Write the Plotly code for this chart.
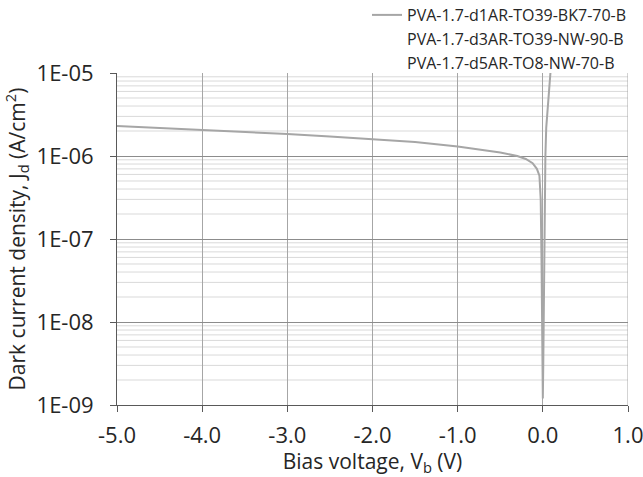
import plotly.graph_objects as go

# Data
bias_v = [-5.0, -4.5, -4.0, -3.5, -3.0, -2.5, -2.0, -1.5, -1.0, -0.7, -0.5, -0.3, -0.2, -0.12,
          -0.07, -0.04, -0.025, -0.015, -0.008, -0.003, 0.0, 0.005, 0.012, 0.02, 0.03, 0.04,
          0.06, 0.08, 0.09, 0.1]
jd = [2.3e-6, 2.18e-6, 2.06e-6, 1.95e-6, 1.84e-6, 1.72e-6, 1.6e-6, 1.47e-6, 1.3e-6, 1.18e-6,
      1.1e-6, 1.0e-6, 9.2e-7, 8.2e-7,
      7.0e-7, 5.8e-7, 3e-7, 5e-8, 8e-9, 2e-9, 1.2e-9, 3e-9, 3e-8, 2.5e-7, 1.0e-6, 2.2e-6,
      4.5e-6, 7.5e-6, 1.0e-5, 1.4e-5]

series_names = ["PVA-1.7-d1AR-TO39-BK7-70-B",
                "PVA-1.7-d3AR-TO39-NW-90-B",
                "PVA-1.7-d5AR-TO8-NW-70-B"]

x_ticks = [-5.0, -4.0, -3.0, -2.0, -1.0, 0.0, 1.0]
x_tick_text = ["-5.0", "-4.0", "-3.0", "-2.0", "-1.0", "0.0", "1.0"]
y_ticks = [1e-9, 1e-8, 1e-7, 1e-6, 1e-5]
y_tick_text = ["1E-09", "1E-08", "1E-07", "1E-06", "1E-05"]

FONT = "Open Sans"
TXT = "#262626"
W, H = 643, 477
ML, MR, MT, MB = 117, 15, 73, 72
PW, PH = W - ML - MR, H - MT - MB

fig = go.Figure()

# minor horizontal gridlines
minor_vals = [m * 10 ** e for e in range(-9, -5) for m in range(2, 10)]
for v in minor_vals:
    fig.add_shape(type="line", xref="paper", yref="y", x0=0, x1=1, y0=v, y1=v,
                  line=dict(color="#d9d9d9", width=1), layer="below")
# right border gridline at x = 1.0
fig.add_shape(type="line", xref="x", yref="paper", x0=x_ticks[-1], x1=x_ticks[-1], y0=0, y1=1,
              line=dict(color="#a6a6a6", width=1), layer="below")

fig.add_trace(go.Scatter(x=bias_v, y=jd, mode="lines", name=series_names[0],
                         line=dict(color="#a6a6a6", width=2)))
for nm in series_names[1:]:
    fig.add_trace(go.Scatter(x=[None], y=[None], mode="lines", name=nm,
                             line=dict(color="rgba(0,0,0,0)", width=2)))

fig.update_layout(
    width=W, height=H,
    margin=dict(l=ML, r=MR, t=MT, b=MB, autoexpand=False),
    plot_bgcolor="white", paper_bgcolor="white",
    font=dict(family=FONT, color=TXT),
    showlegend=True,
    legend=dict(x=(367 - ML) / PW, xanchor="left",
                y=1 + (MT + 2) / PH, yanchor="top",
                font=dict(size=16, family=FONT, color=TXT),
                bgcolor="rgba(0,0,0,0)", tracegroupgap=0),
    xaxis=dict(range=[-5, 1], tickvals=x_ticks, ticktext=x_tick_text,
               showgrid=True, gridcolor="#a6a6a6", gridwidth=1,
               showline=True, linecolor="#595959", linewidth=1,
               ticks="outside", ticklen=6, tickcolor="#595959",
               ticklabelstandoff=5, ticklabeloverflow="allow",
               tickfont=dict(size=22, family=FONT, color=TXT),
               title=dict(text="Bias voltage, V<sub>b</sub> (V)",
                          font=dict(size=21, family=FONT, color=TXT), standoff=7),
               zeroline=False),
    yaxis=dict(type="log", range=[-9, -5], tickvals=y_ticks, ticktext=y_tick_text,
               showgrid=True, gridcolor="#8c8c8c", gridwidth=1,
               showline=True, linecolor="#595959", linewidth=1,
               ticks="outside", ticklen=6, tickcolor="#595959",
               ticklabelstandoff=12,
               tickfont=dict(size=22, family=FONT, color=TXT),
               title=dict(text="Dark current density, J<sub>d</sub> (A/cm<sup>2</sup>)",
                          font=dict(size=21, family=FONT, color=TXT), standoff=10),
               zeroline=False),
)

fig.write_html("out.html")
